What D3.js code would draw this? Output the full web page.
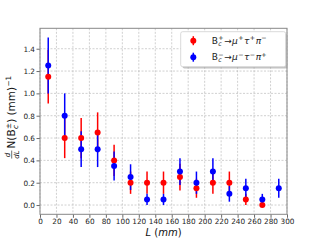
<!DOCTYPE html>
<html>
<head>
<meta charset="utf-8">
<script src="https://cdn.jsdelivr.net/npm/d3@7"></script>
<style>
body{margin:0;background:#fff;}
text{font-family:"DejaVu Sans",sans-serif;}
</style>
</head>
<body>
<svg id="chart" width="320" height="240"></svg>
<script>
"use strict"

// bin centres (mm)
const binsL = [10,30,50,70,90,110,130,150,170,190,210,230,250,270,290];
// B_c^+ -> mu+ tau+ pi-  (red)
const plusVal = [1.15,0.60,0.60,0.65,0.40,0.20,0.20,0.20,0.25,0.15,0.20,0.20,0.05,0.00];
const plusErr = [0.24,0.18,0.18,0.18,0.14,0.10,0.10,0.10,0.12,0.085,0.10,0.10,0.05,0.00];
// B_c^- -> mu- tau- pi+  (blue)
const minusVal = [1.25,0.80,0.50,0.50,0.35,0.25,0.05,0.05,0.30,0.20,0.30,0.10,0.15,0.05,0.15];
const minusErr = [0.25,0.20,0.16,0.16,0.13,0.115,0.05,0.05,0.12,0.10,0.12,0.07,0.085,0.05,0.085];
const xTicks = d3.range(0,301,20);
const yTicks = [0,0.2,0.4,0.6,0.8,1.0,1.2,1.4];

const svg = d3.select("#chart");
const pLeft=40, pRight=287, pTop=28.3, pBottom=214.3;
const x = d3.scaleLinear().domain([0,300]).range([pLeft,pRight]);
const y = d3.scaleLinear().domain([-0.083,1.583]).range([pBottom,pTop]);

// grid
const grid = svg.append("g").attr("id","grid");
grid.selectAll("line.gx").data(xTicks).join("line")
    .attr("x1",d=>x(d)).attr("x2",d=>x(d)).attr("y1",pTop).attr("y2",pBottom)
    .attr("stroke","#b0b0b0").attr("stroke-width",0.6).attr("stroke-dasharray","2,1.5");
grid.selectAll("line.gy").data(yTicks).join("line")
    .attr("y1",d=>y(d)).attr("y2",d=>y(d)).attr("x1",pLeft).attr("x2",pRight)
    .attr("stroke","#b0b0b0").attr("stroke-width",0.6).attr("stroke-dasharray","2,1.5");

// axes
const xAxis = svg.append("g").attr("transform","translate(0,"+pBottom+")")
    .call(d3.axisBottom(x).tickValues(xTicks).tickSize(3.5).tickPadding(1.5).tickFormat(d3.format("d")));
const yAxis = svg.append("g").attr("transform","translate("+pLeft+",0)")
    .call(d3.axisLeft(y).tickValues(yTicks).tickSize(3.5).tickPadding(1.5).tickFormat(d3.format(".1f")));
[xAxis,yAxis].forEach(a=>{
    a.select(".domain").remove();
    a.selectAll("text").attr("font-size",7.3).attr("fill","#222").attr("font-family","DejaVu Sans");
    a.selectAll("line").attr("stroke","#444").attr("stroke-width",0.8);
});

// frame
svg.append("rect").attr("x",pLeft).attr("y",pTop).attr("width",pRight-pLeft).attr("height",pBottom-pTop)
    .attr("fill","none").attr("stroke","#888").attr("stroke-width",1);

// series
function drawSeries(vals, errs, color){
    const pts = vals.map((v,i)=>({x:binsL[i], v:v, e:errs[i]}));
    const g = svg.append("g");
    g.selectAll("line").data(pts).join("line")
        .attr("x1",d=>x(d.x)).attr("x2",d=>x(d.x))
        .attr("y1",d=>y(d.v-d.e)).attr("y2",d=>y(d.v+d.e))
        .attr("stroke",color).attr("stroke-width",1.5);
    return {g:g, pts:pts};
}
const sp = drawSeries(plusVal, plusErr, "#ff0000");
const sm = drawSeries(minusVal, minusErr, "#0000ff");
[[sp,"#ff0000"],[sm,"#0000ff"]].forEach(([s,c])=>{
    svg.append("g").selectAll("circle").data(s.pts).join("circle")
        .attr("cx",d=>x(d.x)).attr("cy",d=>y(d.v)).attr("r",3).attr("fill",c);
});

// math-ish text helper: segments {t, sup, sub, it}
function mathText(parent, x0, yb, fs, segs){
    let cx = x0;
    segs.forEach(s=>{
        let w = 0;
        if(s.t!==undefined){
            const t = parent.append("text").attr("x",cx).attr("y",yb).attr("font-size",fs)
                .attr("font-style",s.it?"italic":"normal").text(s.t);
            w = t.node().getComputedTextLength();
        }
        let w2 = 0;
        if(s.sup!==undefined){
            const t = parent.append("text").attr("x",cx+w+0.3).attr("y",yb-fs*0.38).attr("font-size",fs*0.7).text(s.sup);
            w2 = Math.max(w2,t.node().getComputedTextLength());
        }
        if(s.sub!==undefined){
            const t = parent.append("text").attr("x",cx+w+0.3).attr("y",yb+fs*0.25).attr("font-size",fs*0.7)
                .attr("font-style","italic").text(s.sub);
            w2 = Math.max(w2,t.node().getComputedTextLength());
        }
        cx += w + w2 + (w2?0.6:0) + (s.gap||0);
    });
    return cx - x0;
}

// legend
const lg = svg.append("g");
lg.append("rect").attr("x",182.5).attr("y",33.5).attr("width",105).attr("height",35).attr("rx",2)
    .attr("fill","#999").attr("opacity",0.6);
lg.append("rect").attr("x",180.7).attr("y",31.7).attr("width",105).attr("height",35).attr("rx",2)
    .attr("fill","#fff").attr("stroke","#d0d0d0").attr("stroke-width",0.8);
[[40.7,"#ff0000","+","+","+","\u2212"],[57.2,"#0000ff","\u2212","\u2212","\u2212","+"]].forEach(r=>{
    lg.append("line").attr("x1",193.3).attr("x2",193.3).attr("y1",r[0]-4.5).attr("y2",r[0]+4.5)
        .attr("stroke",r[1]).attr("stroke-width",1.5);
    lg.append("circle").attr("cx",193.3).attr("cy",r[0]).attr("r",3).attr("fill",r[1]);
    const tg = lg.append("g").attr("fill","#222");
    mathText(tg, 211.7, r[0]+3, 9, [
        {t:"B", sup:r[2], sub:"c", gap:0.5},
        {t:"\u2192", gap:0.3},
        {t:"\u03bc", it:true, sup:r[3], gap:0.3},
        {t:"\u03c4", it:true, sup:r[4], gap:0.3},
        {t:"\u03c0", it:true, sup:r[5]}
    ]);
});

// x label: one text element with tspans
const xl = svg.append("text").attr("x",163.5).attr("y",235.5).attr("text-anchor","middle")
    .attr("font-size",10).attr("fill","#111");
xl.append("tspan").attr("font-style","italic").text("L");
xl.append("tspan").text("\u00a0(");
xl.append("tspan").attr("font-style","italic").text("mm");
xl.append("tspan").text(")");

// y label (rotated)
const yl = svg.append("g").attr("fill","#111");
const fr = yl.append("g");
fr.append("text").attr("x",3.5).attr("y",-5).attr("font-size",7).attr("font-style","italic").attr("text-anchor","middle").text("d");
fr.append("line").attr("x1",0).attr("x2",8).attr("y1",-3.3).attr("y2",-3.3).attr("stroke","#111").attr("stroke-width",0.6);
fr.append("text").attr("x",4).attr("y",3.5).attr("font-size",7).attr("font-style","italic").attr("text-anchor","middle").text("dL");
const rest = yl.append("g").attr("transform","translate(10,0)");
const rw = mathText(rest, 0, 0, 10.5, [
    {t:"N(B", sup:"\u00b1", sub:"c"},
    {t:")", gap:3},
    {t:"(mm)", sup:"\u22121"}
]);
const totalW = 10 + rw;
yl.attr("transform","translate(15,"+(117+totalW/2)+") rotate(-90)");
</script>
</body>
</html>
